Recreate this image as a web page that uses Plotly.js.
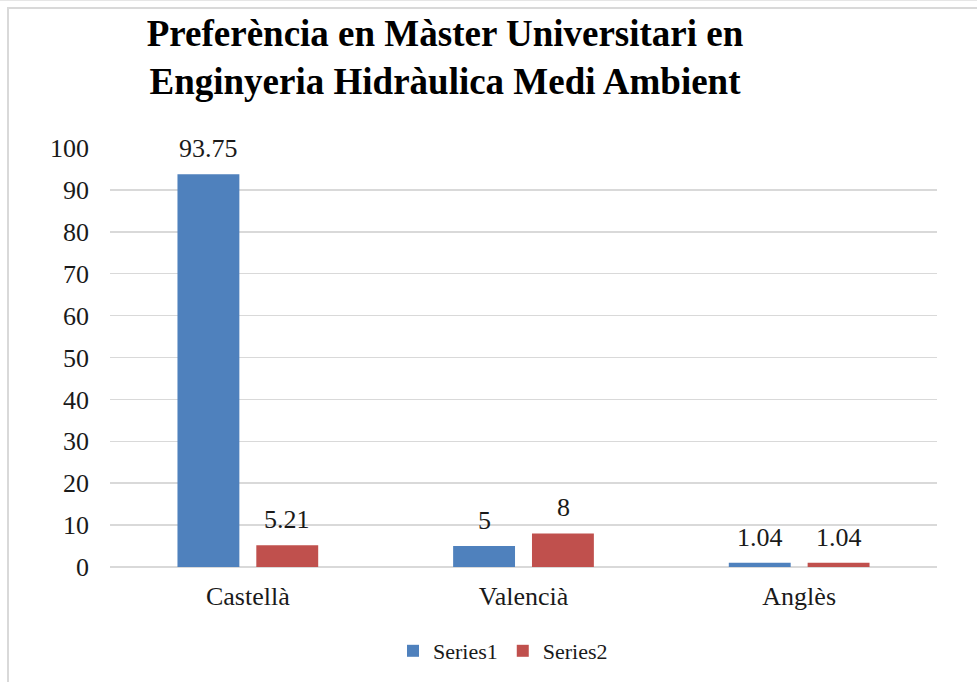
<!DOCTYPE html>
<html>
<head>
<meta charset="utf-8">
<script src="https://cdn.plot.ly/plotly-3.0.1.min.js"></script>
<style>
html,body{margin:0;padding:0;background:#fff;}
#wrap{position:relative;width:977px;height:682px;overflow:hidden;}
#chart{position:absolute;left:0;top:0;width:977px;height:682px;}
#frame{position:absolute;left:7px;top:7px;width:1000px;height:700px;border-left:2px solid #D9D9D9;border-top:2px solid #D9D9D9;pointer-events:none;}
#topline{position:absolute;left:0;top:0;width:977px;height:1px;background:#E6E6E6;pointer-events:none;}
</style>
</head>
<body>
<div id="wrap">
<div id="chart"></div>
<div id="frame"></div>
<div id="topline"></div>
</div>
<script>
const categories = ["Castellà", "Valencià", "Anglès"];
const series1 = [93.75, 5, 1.04];
const series2 = [5.21, 8, 1.04];
const seriesNames = ["Series1", "Series2"];
const yTicks = [0, 10, 20, 30, 40, 50, 60, 70, 80, 90, 100];
const titleText = "Preferència en Màster Universitari en<br>Enginyeria Hidràulica Medi Ambient";

const FONT = "Liberation Serif, Times New Roman, serif";
const TXT = "#1a1a1a";

function barTrace(name, values, color) {
  return {
    type: "bar",
    name: name,
    x: categories,
    y: values,
    marker: {color: color, line: {width: 0}},
    hoverinfo: "none"
  };
}

const data = [
  barTrace(seriesNames[0], series1, "#4F81BD"),
  barTrace(seriesNames[1], series2, "#C0504D")
];

// data labels built from the series arrays
const labelShift = [-39.5, 39.5];
const annotations = [];
[series1, series2].forEach((vals, si) => {
  vals.forEach((v, i) => {
    annotations.push({
      x: categories[i], y: v, xref: "x", yref: "y",
      text: String(v), showarrow: false,
      xanchor: "center", yanchor: "bottom",
      xshift: labelShift[si], yshift: 9,
      font: {family: FONT, size: 26, color: TXT}
    });
  });
});

const layout = {
  width: 977,
  height: 682,
  margin: {l: 110, r: 40, t: 148, b: 115, pad: 0},
  paper_bgcolor: "#ffffff",
  plot_bgcolor: "#ffffff",
  font: {family: FONT, color: TXT},
  title: {
    text: titleText,
    font: {family: FONT, size: 37, color: "#000000", weight: "bold"},
    xref: "container", yref: "container",
    x: 445 / 977, xanchor: "center",
    y: 1 - 46 / 682, yanchor: "top"
  },
  barmode: "group",
  bargap: 0.428,
  bargroupgap: 0.215,
  xaxis: {
    type: "category",
    showgrid: false,
    showline: false,
    zeroline: false,
    ticks: "",
    tickfont: {family: FONT, size: 26, color: TXT},
    ticklabelstandoff: 11
  },
  yaxis: {
    range: [0, 100],
    tickvals: yTicks,
    ticktext: yTicks.map(String),
    showgrid: true,
    gridcolor: "#D9D9D9",
    gridwidth: 1.5,
    zeroline: true,
    zerolinecolor: "#D9D9D9",
    zerolinewidth: 1.5,
    showline: false,
    ticks: "",
    tickfont: {family: FONT, size: 26, color: TXT},
    ticklabelstandoff: 20
  },
  annotations: annotations,
  showlegend: true,
  legend: {
    orientation: "h",
    x: 503 / 977, xref: "container", xanchor: "center",
    y: 1 - 651 / 682, yref: "container", yanchor: "middle",
    font: {family: FONT, size: 22, color: TXT},
    tracegroupgap: 0
  }
};

Plotly.newPlot("chart", data, layout, {displayModeBar: false, staticPlot: true});
</script>
</body>
</html>
